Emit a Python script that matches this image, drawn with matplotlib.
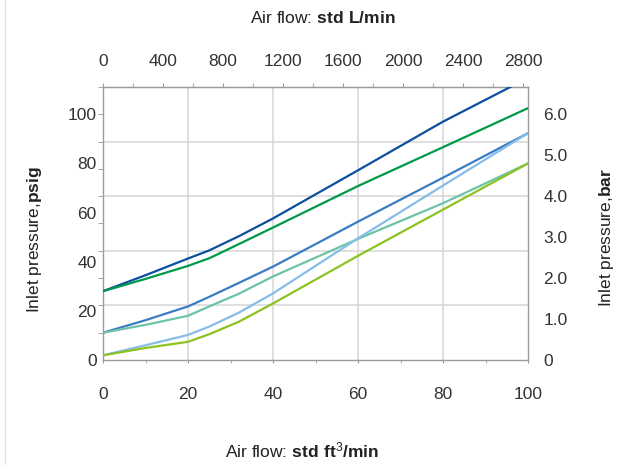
import matplotlib
matplotlib.use("Agg")
import matplotlib.pyplot as plt
from matplotlib.lines import Line2D
import numpy as np

plt.rcParams['font.family'] = ['Liberation Sans', 'DejaVu Sans']
plt.rcParams['mathtext.fontset'] = 'custom'
plt.rcParams['mathtext.rm'] = 'Liberation Sans'
plt.rcParams['mathtext.bf'] = 'Liberation Sans:bold'

# ---- data (flow in std ft3/min, pressure on psig scale) ----
flow_cfm = [0, 10, 20, 25, 32, 40, 60, 80, 100]
dark_blue = [28.0, 34.5, 41.3, 44.6, 50.4, 57.6, 77.2, 97.0, 114.8]
green = [28.0, 33.0, 38.3, 41.4, 47.2, 53.9, 70.8, 86.6, 102.5]
mid_blue = [11.1, 16.2, 21.8, 25.7, 31.4, 38.0, 56.3, 74.2, 92.3]
teal = [11.1, 14.3, 18.0, 21.8, 27.0, 34.0, 49.3, 63.8, 80.0]
light_blue = [1.9, 6.0, 10.2, 13.6, 19.3, 27.1, 49.5, 71.0, 92.3]
yellow_green = [1.9, 4.9, 7.4, 10.5, 15.6, 23.0, 42.4, 61.2, 80.0]

series = [dark_blue, green, mid_blue, teal, light_blue, yellow_green]
colors = ['#0b4f9f', '#00994a', '#3a7cc4', '#6cc3a6', '#86bde8', '#8dc21f']

psig_labels = [0, 20, 40, 60, 80, 100]
bar_labels = ['0', '1.0', '2.0', '3.0', '4.0', '5.0', '6.0']
lpm_labels = [0, 400, 800, 1200, 1600, 2000, 2400, 2800]
cfm_labels = [0, 20, 40, 60, 80, 100]

CFM_TO_LPM = 28.317
Y_TOP = 111.1

fig = plt.figure(figsize=(6.2, 4.65), dpi=100)
ax = fig.add_axes([103/620, 105/465, 425/620, 273/465])

tick_col = '#333333'
spine_col = '#9a9a9a'
grid_col = '#d6d6d6'

for ys, c in zip(series, colors):
    ax.plot(flow_cfm, ys, color=c, lw=1.6, solid_capstyle='round', zorder=3)

ax.set_xlim(0, 100)
ax.set_ylim(0, Y_TOP)

# gridlines
for gx in [20, 40, 60, 80]:
    ax.axvline(gx, color=grid_col, lw=1.1, zorder=1)
for k in [2, 4, 6, 8]:
    ax.axhline(k * Y_TOP / 10, color=grid_col, lw=1.1, zorder=1)

for s in ax.spines.values():
    s.set_color(spine_col)
    s.set_linewidth(1.0)

# bottom axis
ax.set_xticks(cfm_labels)
ax.set_xticks(np.arange(10, 100, 20), minor=True)
ax.tick_params(axis='x', which='both', direction='out', length=2.4, color=spine_col,
               labelsize=12.5, labelcolor=tick_col, pad=17)

# left axis
ax.set_yticks(psig_labels)
ax.set_yticks([k * Y_TOP / 10 for k in range(11)], minor=True)
ax.tick_params(axis='y', which='major', length=0, labelsize=12.5, labelcolor=tick_col, pad=4.5)
ax.tick_params(axis='y', which='minor', direction='out', length=3.6, color=spine_col)

# right axis (bar)
axr = ax.twinx()
axr.set_ylim(0, Y_TOP / 100 * 6)
axr.set_yticks(np.arange(0, 7, 1.0))
axr.set_yticklabels(bar_labels)
axr.tick_params(axis='y', length=0, labelsize=12.5, labelcolor=tick_col, pad=11)
for s in axr.spines.values():
    s.set_visible(False)

# top axis (L/min)
axt = ax.secondary_xaxis('top', functions=(lambda x: x * CFM_TO_LPM, lambda x: x / CFM_TO_LPM))
axt.set_xticks(lpm_labels)
axt.set_xticks(np.arange(200, 2900, 400), minor=True)
axt.tick_params(axis='x', which='both', direction='out', length=3, color=spine_col,
                labelsize=12.5, labelcolor=tick_col, pad=10)
axt.spines['top'].set_color(spine_col)

# titles / labels
fig.text(323/620, 1 - 18/465, r'Air flow: $\mathbf{std\ L/min}$', ha='center', va='center',
         fontsize=12.5, color='#222222')
fig.text(302/620, 1 - 450/465, r'Air flow: $\mathbf{std\ ft^{\mathrm{3}}/min}$', ha='center', va='center',
         fontsize=12.5, color='#222222')
fig.text(35/620, 1 - 240/465, r'Inlet pressure,$\mathbf{psig}$', ha='center', va='center',
         rotation=90, fontsize=12.5, color='#222222')
fig.text(606/620, 1 - 238/465, r'Inlet pressure,$\mathbf{bar}$', ha='center', va='center',
         rotation=90, fontsize=12.5, color='#222222')

# faint page border at the left
fig.add_artist(Line2D([5/620, 5/620], [0, 1], transform=fig.transFigure, color='#e2e2e2', lw=1.0))

fig.savefig('out.png', dpi=100)
